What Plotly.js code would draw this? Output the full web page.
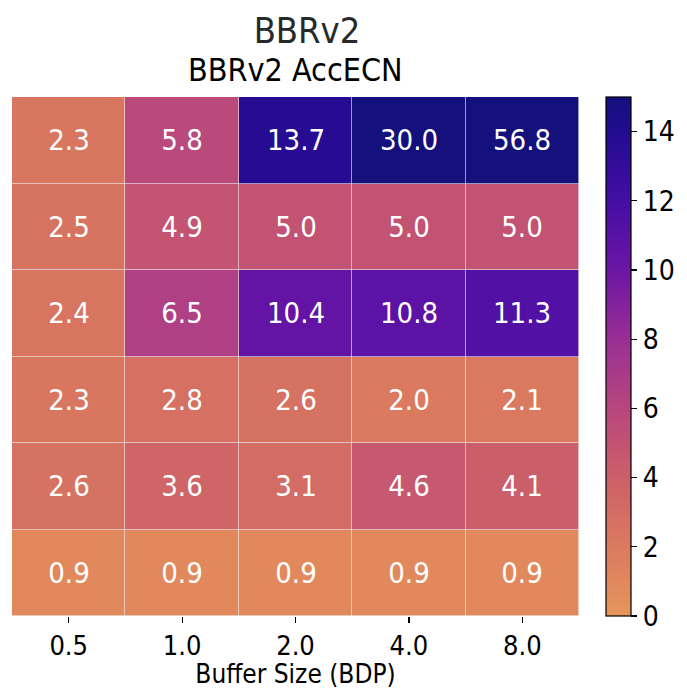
<!DOCTYPE html>
<html>
<head>
<meta charset="utf-8">
<script src="https://cdn.plot.ly/plotly-3.0.1.min.js"></script>
<style>html,body{margin:0;padding:0;background:#fff;}#chart{width:687px;height:689px;}</style>
</head>
<body>
<div id="chart"></div>
<script>
const bufferSizes = ['0.5', '1.0', '2.0', '4.0', '8.0'];
const rowIds = ['r1', 'r2', 'r3', 'r4', 'r5', 'r6'];
const row1 = [2.3, 5.8, 13.7, 30.0, 56.8];
const row2 = [2.5, 4.9, 5.0, 5.0, 5.0];
const row3 = [2.4, 6.5, 10.4, 10.8, 11.3];
const row4 = [2.3, 2.8, 2.6, 2.0, 2.1];
const row5 = [2.6, 3.6, 3.1, 4.6, 4.1];
const row6 = [0.9, 0.9, 0.9, 0.9, 0.9];
const colorTicks = [0, 2, 4, 6, 8, 10, 12, 14];

const zRows = [row1, row2, row3, row4, row5, row6];
const FONT = 'DejaVu Sans Condensed, DejaVu Sans, sans-serif';

const colorscale = [
  [0.0, '#e6955a'],
  [0.133, '#db7a5f'],
  [0.267, '#cc6068'],
  [0.4, '#b8467e'],
  [0.533, '#9a2f94'],
  [0.667, '#6c16a5'],
  [0.8, '#440ea4'],
  [0.933, '#220b90'],
  [1.0, '#14107c']
];

const trace = {
  type: 'heatmap',
  x: bufferSizes,
  y: rowIds,
  z: zRows,
  zmin: 0,
  zmax: 15,
  colorscale: colorscale,
  xgap: 0.6,
  ygap: 0.6,
  texttemplate: '%{z:.1f}',
  textfont: {family: FONT, size: 29, color: '#ffffff'},
  hoverinfo: 'skip',
  colorbar: {
    x: 1.047, xanchor: 'left', xref: 'paper',
    y: 0.5, yanchor: 'middle', len: 1, lenmode: 'fraction',
    thickness: 25, thicknessmode: 'pixels',
    outlinewidth: 1.2, outlinecolor: '#000',
    tickvals: colorTicks,
    ticks: 'outside', ticklen: 6, tickwidth: 1.2, tickcolor: '#000',
    tickfont: {family: FONT, size: 28, color: '#000'},
    xpad: 0, ypad: 0
  }
};

const layout = {
  width: 687, height: 689,
  margin: {l: 12, r: 105, t: 97, b: 73},
  paper_bgcolor: '#ffffff',
  plot_bgcolor: '#f3f3f3',
  font: {family: FONT, color: '#000'},
  title: {
    text: 'BBRv2',
    font: {family: FONT, size: 36, color: '#262a2b'},
    xref: 'container', x: 307/687, xanchor: 'center',
    yref: 'container', y: 1 - 30/689, yanchor: 'middle'
  },
  annotations: [{
    text: 'BBRv2 AccECN',
    xref: 'paper', yref: 'paper', x: 0.5, y: 1,
    xanchor: 'center', yanchor: 'bottom', yshift: 6,
    showarrow: false,
    font: {family: FONT, size: 32, color: '#000'}
  }],
  xaxis: {
    type: 'category',
    ticks: 'outside', ticklen: 6, tickwidth: 1.2, tickcolor: '#000',
    tickfont: {family: FONT, size: 27, color: '#000'},
    showline: false, showgrid: false, zeroline: false,
    title: {text: 'Buffer Size (BDP)', font: {family: FONT, size: 26, color: '#000'}, standoff: 4},
    fixedrange: true
  },
  yaxis: {
    type: 'category',
    autorange: 'reversed',
    showticklabels: false, ticks: '',
    showline: false, showgrid: false, zeroline: false,
    fixedrange: true
  }
};

Plotly.newPlot('chart', [trace], layout, {displayModeBar: false, staticPlot: true});
</script>
</body>
</html>
